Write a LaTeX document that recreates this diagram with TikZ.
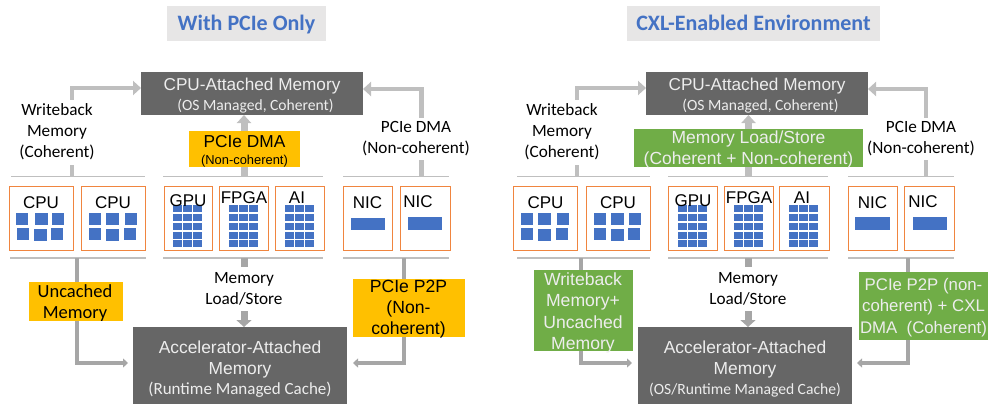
\documentclass[tikz,border=0pt]{standalone}
\usepackage{fontspec}
\setmainfont{Liberation Sans}
\newfontfamily\carl{Carlito}
\usetikzlibrary{arrows.meta}
\definecolor{memgray}{HTML}{666666}
\definecolor{titlebg}{HTML}{E7E6E6}
\definecolor{titleblue}{HTML}{4472C4}
\definecolor{amber}{HTML}{FFC000}
\definecolor{leaf}{HTML}{70AD47}
\definecolor{cardedge}{HTML}{F0853F}
\definecolor{ruleg}{HTML}{BFBFBF}
\definecolor{lowg}{HTML}{A6A6A6}
\definecolor{memtext}{HTML}{EDEDED}
\newcommand{\sz}[2]{\fontsize{#1}{#2}\selectfont}
\newcommand{\dn}[1]{\rule{0pt}{#1pt}}
\tikzset{
  titlebox/.style={fill=titlebg,inner sep=0pt,outer sep=0pt,text=titleblue,text height=19pt,text depth=4pt,font=\carl\bfseries\sz{22}{24}},
  membox/.style={fill=memgray,inner sep=0pt,outer sep=0pt,text=memtext,align=center},
  cardbox/.style={draw=cardedge,fill=white,line width=1pt,inner sep=0pt,outer sep=0pt,minimum height=63.5pt},
  cardtext/.style={inner sep=0pt,font=\sz{17}{20}},
  rulebar/.style={fill=ruleg,inner sep=0pt,outer sep=0pt,minimum height=1.5pt},
  plainlabel/.style={fill=white,inner sep=0pt,outer sep=0pt,align=center,font=\carl\sz{17.2}{21}},
  amberlabel/.style={fill=amber,inner sep=0pt,outer sep=0pt},
  leaflabel/.style={fill=leaf,inner sep=0pt,outer sep=0pt},
  ambertext/.style={inner sep=0pt,align=center},
  leaftext/.style={inner sep=0pt,align=center,text=memtext},
  topconn/.style={draw=ruleg,line width=4.5pt,-{Triangle[length=8pt,width=14pt]}},
  topmid/.style={draw=ruleg,line width=7pt,-{Triangle[length=8pt,width=14pt]}},
  lowconn/.style={draw=lowg,line width=4pt,-{Triangle[length=5pt,width=9pt]}},
  lowmid/.style={draw=lowg,line width=7pt,-{Triangle[length=7pt,width=15pt]}},
  block/.style={fill=titleblue},
}
\newcommand{\blk}[4]{\fill[block] (#1,#2) rectangle (#3,#4);}
\newcommand{\gridb}[3]{%
  \foreach \gx in {#1,#2,#3}{%
    \foreach \gy in {205,214,223,232,240}{%
      \fill[block] (\gx,\gy) rectangle ++(9,7);%
    }%
  }%
}
\begin{document}
\begin{tikzpicture}[x=1pt,y=-1pt]
\useasboundingbox (0,0) rectangle (988,404);
% titles
\node[titlebox,minimum width=159pt,minimum height=35pt] (titleA) at (246.5,23.5) {With PCIe Only};
\node[titlebox,minimum width=253pt,minimum height=35pt] (titleB) at (753.5,23.5) {CXL-Enabled Environment};
% memory boxes
\node[membox,minimum width=222pt,minimum height=43pt,font=\sz{17.2}{20}] (cpumemA) at (252,93.5) {\dn{16}CPU-Attached Memory\\{\carl\sz{15.6}{20}\ \ (OS Managed, Coherent)}};
\node[membox,minimum width=222pt,minimum height=43pt,font=\sz{17.2}{20}] (cpumemB) at (757,93.5) {\dn{16}CPU-Attached Memory\\{\carl\sz{15.6}{20}\ \ (OS Managed, Coherent)}};
\node[membox,minimum width=214pt,minimum height=77pt,font=\sz{17.4}{20.5}] (accA) at (240,365.5) {\dn{20}Accelerator-Attached\\Memory\\{\carl\sz{17}{20.5}(Runtime Managed Cache)}};
\node[membox,minimum width=214pt,minimum height=77pt,font=\sz{17.4}{20.5}] (accB) at (745,365.5) {\dn{20}Accelerator-Attached\\Memory\\{\carl\sz{15.6}{20.5}(OS/Runtime Managed Cache)}};
% rules
\foreach \nm/\cx/\rw in {tA1/78/134,tA2/243/160,tA3/396/106,tB1/583.5/133,tB2/748/160,tB3/901/106}{
  \node[rulebar,minimum width=\rw pt] (\nm) at (\cx,176.5) {};
}
\foreach \nm/\cx/\rw in {bA1/78/136,bA2/243/160,bA3/396/106,bB1/583/133,bB2/748/160,bB3/901/106}{
  \node[rulebar,minimum width=\rw pt] (\nm) at (\cx,258) {};
}
% bend points
\coordinate (upA1) at (72,88);   \coordinate (upA2) at (244,100); \coordinate (upA3) at (421.5,89);
\coordinate (upB1) at (577,88);  \coordinate (upB2) at (748.5,100); \coordinate (upB3) at (926,89);
\coordinate (dnA1) at (77,363);  \coordinate (dnA2) at (244,300); \coordinate (dnA3) at (404,363);
\coordinate (dnB1) at (581,363); \coordinate (dnB2) at (748,300); \coordinate (dnB3) at (908,363);
\coordinate (inA1) at (128,363); \coordinate (inA3) at (353,363);
\coordinate (inB1) at (632,363); \coordinate (inB3) at (857,363);
% connectors to CPU memory
\draw[topconn] (tA1 -| upA1) -- (upA1) -- (cpumemA.west |- upA1);
\draw[topconn] (tA3 -| upA3) -- (upA3) -- (cpumemA.east |- upA3);
\draw[topmid]  (tA2 -| upA2) -- (cpumemA.south -| upA2);
\draw[topconn] (tB1 -| upB1) -- (upB1) -- (cpumemB.west |- upB1);
\draw[topconn] (tB3 -| upB3) -- (upB3) -- (cpumemB.east |- upB3);
\draw[topmid]  (tB2 -| upB2) -- (cpumemB.south -| upB2);
% connectors to accelerator memory
\draw[lowconn] (bA1 -| dnA1) -- (dnA1) -- (inA1);
\draw[lowconn] (bA3 -| dnA3) -- (dnA3) -- (inA3);
\draw[lowmid]  (bA2 -| dnA2) -- (accA.north -| dnA2);
\draw[lowconn] (bB1 -| dnB1) -- (dnB1) -- (inB1);
\draw[lowconn] (bB3 -| dnB3) -- (dnB3) -- (inB3);
\draw[lowmid]  (bB2 -| dnB2) -- (accB.north -| dnB2);
% cards
\foreach \nm/\xa/\xb in {
  cA1/9.5/73, cA2/81.5/145, cA3/164/212.5,
  cA4/219.5/268, cA5/275.5/324.5, cA6/343/392, cA7/400/450,
  cB1/513/577, cB2/586/650, cB3/668/717.5,
  cB4/724/773, cB5/779.5/829, cB6/848/897, cB7/904.5/954}{
  \node[cardbox,minimum width={(\xb-\xa)*1pt}] (\nm) at ({(\xa+\xb)/2},218.25) {};
}
% grids of blocks
\gridb{173}{183}{193}\gridb{229}{239}{248.5}\gridb{285}{295}{305}
\gridb{678}{688}{698}\gridb{734}{744}{753.5}\gridb{789}{799}{809}
% CPU blocks
\foreach \xa/\xb/\xc/\xd/\xe/\xf in {16/35/52/17/34/51,89/106/125/89/106/124,521/538/557/521/538/556,594/611/629/594/611/628}{
  \fill[block] (\xa,213) rectangle ++(12,12);
  \fill[block] (\xb,213) rectangle ++(12.5,12);
  \fill[block] (\xc,213) rectangle ++(12,12);
  \fill[block] (\xd,228) rectangle ++(12,12);
  \fill[block] (\xe,229) rectangle ++(13,12);
  \fill[block] (\xf,228) rectangle ++(12,12);
}
% NIC blocks
\blk{351}{218}{385}{230}\blk{408}{217}{442}{230}\blk{855}{217}{890}{230}\blk{913}{217}{947}{230}
% card labels
\foreach \nm/\tx/\ty/\lb in {
  lA1/41/203/CPU,lA2/113/203/CPU,lA3/188/201/GPU,lA4/244/198/FPGA,lA5/297/198/AI,lA6/367.5/203/NIC,lA7/418/201.5/NIC,
  lB1/545.5/203/CPU,lB2/618/203/CPU,lB3/693/201/GPU,lB4/749/198/FPGA,lB5/802/198/AI,lB6/872.5/203/NIC,lB7/923/201.5/NIC}{
  \node[cardtext] (\nm) at (\tx,\ty) {\lb};
}
% plain labels
\node[plainlabel,minimum width=78pt,minimum height=65pt] (wbA) at (57,132) {Writeback\\Memory\\(Coherent)};
\node[plainlabel,minimum width=78pt,minimum height=65pt] (wbB) at (562,132) {Writeback\\Memory\\(Coherent)};
\node[plainlabel,minimum height=42pt] (dmaA) at (416,138.5) {PCIe DMA\\(Non-coherent)};
\node[plainlabel,minimum height=42pt] (dmaB) at (921,138.5) {PCIe DMA\\(Non-coherent)};
\node[plainlabel,minimum height=44pt] (lsA) at (244,289) {Memory\\Load/Store};
\node[plainlabel,minimum height=44pt] (lsB) at (748,289) {Memory\\Load/Store};
% coloured labels: box, then its text
\node[amberlabel,minimum width=111pt,minimum height=36pt] (pdma) at (244.5,149) {};
\node[ambertext,font=\sz{17.3}{17}] (pdmaT) at (244.5,151) {PCIe DMA\\{\sz{12.9}{17}(Non-coherent)}};
\node[amberlabel,minimum width=94pt,minimum height=39pt] (unc) at (76,301.5) {};
\node[ambertext,font=\carl\sz{18.5}{21}] (uncT) at (75,303) {Uncached\\Memory};
\node[amberlabel,minimum width=112pt,minimum height=58pt] (p2p) at (409,308) {};
\node[ambertext,font=\sz{17.6}{21}] (p2pT) at (408.5,309.5) {PCIe P2P\\(Non-\\coherent)};
\node[leaflabel,minimum width=229pt,minimum height=38pt] (mls) at (748.5,148) {};
\node[leaftext,font=\sz{17.5}{21}] (mlsT) at (748.5,149) {Memory Load/Store\\(Coherent + Non-coherent)};
\node[leaflabel,minimum width=99pt,minimum height=81pt] (wbu) at (583.5,310.5) {};
\node[leaftext,font=\sz{17.6}{21.2}] (wbuT) at (583,313) {Writeback\\Memory+\\Uncached\\Memory};
\node[leaflabel,minimum width=129pt,minimum height=68pt] (p2pb) at (923.5,306) {};
\node[leaftext,font=\sz{16.8}{21.5}] (p2pbT) at (923.5,307.5) {PCIe P2P (non-\\coherent) + CXL\\DMA\ \ (Coherent)};
\end{tikzpicture}
\end{document}
